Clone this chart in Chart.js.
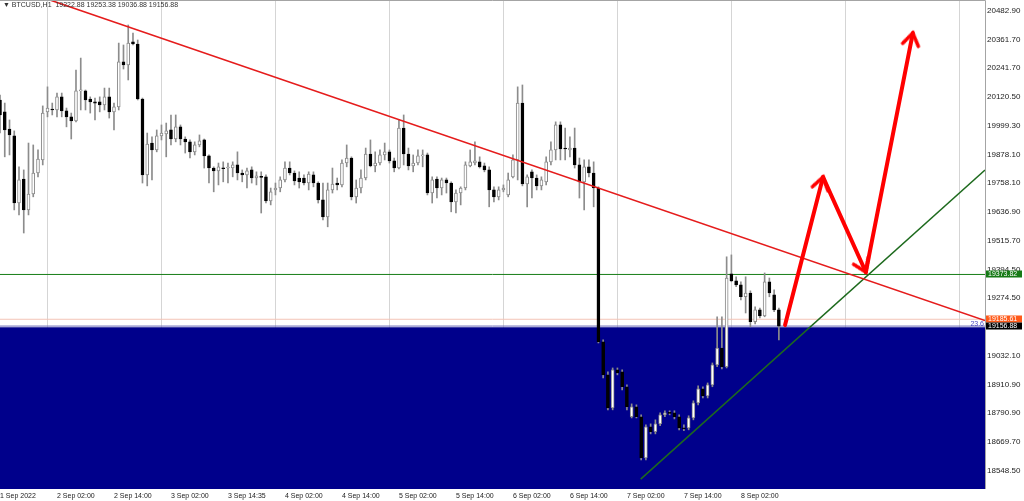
<!DOCTYPE html>
<html>
<head>
<meta charset="utf-8">
<title>BTCUSD H1</title>
<script src="https://cdn.jsdelivr.net/npm/chart.js@4.4.0/dist/chart.umd.min.js"></script>
<style>
    html, body { margin: 0; padding: 0; background: #fff; }
    #wrap { position: relative; width: 1024px; height: 501px; }
    #head { position: absolute; left: 3px; top: 1px; font: 7px "Liberation Sans", Arial, sans-serif; color: #333; white-space: pre; }
</style>
</head>
<body>
<div id="wrap">
    <canvas id="priceChart" width="1024" height="501"></canvas>
    <div id="head">▼ BTCUSD,H1  19222.88 19253.38 19036.88 19156.88</div>
</div>
<script>
// hourly candles, index 0 = first bar on screen
var opens = [
    20107,20057,19985,19956,19674,19775,19645,19712,19800,19855,
    20057,20069,20065,20120,20061,20036,20019,20145,20145,20111,
    20099,20099,20086,20120,20057,20078,20267,20254,20351,20342,
    20111,19792,19926,19897,19956,19964,19981,19943,19994,19943,
    19931,19889,19918,19939,19872,19821,19809,19821,19821,19821,
    19834,19800,19792,19813,19779,19784,19784,19683,19729,19737,
    19771,19821,19800,19779,19779,19758,19792,19758,19687,19616,
    19729,19758,19750,19842,19863,19700,19737,19779,19880,19830,
    19842,19876,19889,19851,19821,19989,19880,19830,19842,19872,
    19876,19716,19775,19737,19771,19758,19679,19716,19737,19830,
    19842,19847,19830,19813,19729,19700,19729,19708,19784,19855,
    20094,19754,19805,19779,19746,19763,19847,19897,20002,19905,
    19897,19905,19834,19763,19826,19800,19737,19091,18952,18813,
    18973,18965,18902,18776,18818,18776,18603,18734,18713,18746,
    18784,18792,18792,18776,18729,18729,18771,18834,18893,18864,
    18910,18994,19065,18986,19376,19347,19330,19280,19296,19175,
    19225,19200,19343,19288,19225
];
var highs = [
    20128,20094,20023,19977,19826,19813,19926,19918,19897,20082,
    20162,20094,20136,20136,20073,20052,20233,20283,20149,20120,
    20115,20120,20157,20157,20094,20346,20338,20422,20388,20359,
    20115,19968,19952,19981,20002,20010,20044,20044,20002,19952,
    19939,19931,19960,19943,19876,19826,19842,19847,19842,19847,
    19889,19813,19821,19826,19805,19805,19792,19737,19758,19784,
    19847,19847,19809,19805,19792,19805,19805,19763,19758,19758,
    19821,19779,19855,19918,19868,19771,19813,19905,19939,19889,
    19897,19926,19897,19863,20023,20044,19905,19876,19897,19897,
    19884,19784,19784,19779,19779,19763,19729,19742,19847,19897,
    19931,19868,19842,19826,19742,19742,19750,19800,19876,20162,
    20170,19792,19813,19792,19784,19868,19931,20015,20015,19989,
    19952,19989,19863,19855,19855,19847,19742,19099,18965,18981,
    18981,18973,18910,18830,18826,18784,18742,18746,18763,18792,
    18801,18801,18801,18784,18742,18780,18843,18906,18902,18918,
    19002,19196,19196,19448,19456,19364,19343,19364,19305,19238,
    19233,19380,19359,19309,19233
];
var lows = [
    19968,19868,19876,19645,19624,19548,19624,19700,19784,19834,
    20036,20044,20036,20036,19994,19943,20015,20065,20065,20052,
    20023,20057,20065,20031,19981,20065,20237,20191,20338,20107,
    19758,19746,19771,19889,19939,19868,19918,19931,19918,19884,
    19863,19876,19910,19821,19758,19721,19750,19763,19758,19784,
    19771,19763,19737,19758,19750,19632,19674,19666,19708,19721,
    19763,19792,19750,19737,19750,19729,19742,19674,19603,19574,
    19716,19729,19742,19826,19687,19674,19716,19771,19826,19805,
    19834,19855,19842,19805,19817,19834,19813,19805,19834,19826,
    19708,19674,19695,19708,19716,19637,19632,19666,19729,19826,
    19834,19821,19805,19658,19679,19687,19721,19700,19779,19771,
    19746,19658,19695,19729,19729,19750,19834,19855,19855,19855,
    19868,19821,19695,19645,19784,19658,19086,18939,18805,18805,
    18952,18889,18805,18771,18771,18595,18595,18704,18704,18738,
    18776,18784,18767,18721,18717,18721,18763,18826,18855,18855,
    18902,18986,18977,18981,19343,19322,19267,19212,19154,19166,
    19191,19196,19280,19217,19099
];
var closes = [
    20044,19981,19960,19674,19771,19645,19712,19800,19859,20052,
    20073,20065,20120,20061,20036,20019,20145,20149,20107,20099,
    20094,20086,20120,20057,20078,20267,20254,20346,20342,20111,
    19792,19922,19897,19956,19968,19977,19943,19994,19943,19931,
    19889,19918,19935,19872,19821,19809,19826,19818,19823,19834,
    19800,19792,19809,19779,19788,19782,19683,19721,19737,19771,
    19821,19800,19767,19763,19758,19796,19758,19687,19616,19729,
    19754,19750,19842,19863,19700,19737,19779,19880,19830,19842,
    19876,19889,19851,19821,19989,19880,19830,19842,19872,19876,
    19716,19771,19737,19771,19758,19679,19716,19737,19834,19847,
    19851,19826,19813,19729,19700,19729,19737,19771,19855,20094,
    19754,19784,19779,19746,19771,19847,19897,20002,19901,19901,
    19905,19834,19763,19826,19800,19737,19091,18952,18813,18973,
    18960,18902,18818,18818,18776,18603,18734,18713,18746,18784,
    18792,18790,18776,18729,18725,18771,18834,18893,18864,18910,
    18994,19065,18986,19359,19347,19330,19280,19296,19175,19225,
    19200,19343,19296,19225,19156.88
];

var xLabels = ['1 Sep 2022', '2 Sep 02:00', '2 Sep 14:00', '3 Sep 02:00', '3 Sep 14:35', '4 Sep 02:00',
    '4 Sep 14:00', '5 Sep 02:00', '5 Sep 14:00', '6 Sep 02:00', '6 Sep 14:00', '7 Sep 02:00',
    '7 Sep 14:00', '8 Sep 02:00'];
var yTicks = [20482.90, 20361.70, 20241.70, 20120.50, 19999.30, 19878.10, 19758.10, 19636.90, 19515.70,
    19394.50, 19274.50, 19153.30, 19032.10, 18910.90, 18790.90, 18669.70, 18548.50];
var dayLines = [10, 34, 58, 82, 106, 130, 154, 178, 202];

// drawn objects
var supportLevel = 19373.82;
var askPrice = 19185.61;
var bidPrice = 19156.88;
var zoneTop = 19152;
var fibLabel = '23.6';
var redTrend = [{x: 10.5, y: 20527}, {x: 207.4, y: 19180}];
var greenTrend = [{x: 134.9, y: 18514}, {x: 207.4, y: 19813}];
var arrowPath = [
    [{x: 165.3, y: 19161}, {x: 173.3, y: 19783}],
    [{x: 173.3, y: 19783}, {x: 182.3, y: 19384}],
    [{x: 182.3, y: 19384}, {x: 192.2, y: 20388}]
];
var arrowAngles = [14, 156, 11];
var tagValues = [supportLevel, askPrice, bidPrice];
var tagColors = ['#157a15', '#ff5a1a', '#000000'];

var X_MAX = 207.4;
var Y_MIN = 18472.4;
var Y_MAX = 20527;
var FONT = '"Liberation Sans", Arial, sans-serif';

window.addEventListener('load', drawChart);

// open arrow head, tip in the middle of the little canvas, pointing up
function makeChevron() {
    var cv = document.createElement('canvas');
    cv.width = 32;
    cv.height = 32;
    var g = cv.getContext('2d');
    g.strokeStyle = '#ff0000';
    g.lineWidth = 3.5;
    g.lineCap = 'round';
    g.lineJoin = 'miter';
    g.beginPath();
    g.moveTo(8, 28);
    g.lineTo(16, 16);
    g.lineTo(24, 28);
    g.stroke();
    return cv;
}

function drawChart() {
    var ctx = document.getElementById('priceChart');
    var chevron = makeChevron();

    var bodies = [], wicks = [], fills = [], edges = [];
    for (var i = 0; i < opens.length; ++i) {
        var up = closes[i] >= opens[i];
        bodies.push({x: i, y: [opens[i], closes[i]]});
        wicks.push({x: i, y: [lows[i], highs[i]]});
        fills.push(up ? '#ffffff' : '#000000');
        edges.push(up ? '#8a8a8a' : '#000000');
    }

    function hline(v) {
        return [{x: 0, y: v}, {x: X_MAX, y: v}];
    }

    var datasets = [];
    arrowPath.forEach(function (pts, k) {
        datasets.push({
            type: 'line', data: pts, borderColor: '#ff0000', borderWidth: 4,
            borderCapStyle: 'round', pointStyle: chevron, pointRadius: [0, 8],
            pointRotation: [0, arrowAngles[k]], order: 0
        });
    });
    datasets.push({type: 'line', data: redTrend, borderColor: '#e51c1c', borderWidth: 1.6, pointRadius: 0, order: 1});
    datasets.push({type: 'line', data: greenTrend, borderColor: '#1d6a1d', borderWidth: 1.5, pointRadius: 0, order: 1});
    datasets.push({
        type: 'bar', data: bodies, backgroundColor: fills, borderColor: edges, borderWidth: 1,
        borderSkipped: false, barThickness: 3, minBarLength: 1, grouped: false, order: 2
    });
    datasets.push({
        type: 'bar', data: wicks, backgroundColor: '#8c8c8c', borderWidth: 0,
        barThickness: 1, grouped: false, order: 3
    });
    datasets.push({type: 'line', data: hline(supportLevel), borderColor: '#177d17', borderWidth: 1, pointRadius: 0, order: 4});
    datasets.push({type: 'line', data: hline(askPrice), borderColor: '#f4c4b6', borderWidth: 1, pointRadius: 0, order: 4});
    datasets.push({type: 'line', data: hline(bidPrice), borderColor: '#6a6ab8', borderWidth: 1, pointRadius: 0, order: 4});
    datasets.push({
        type: 'line', data: hline(zoneTop), borderColor: '#00008b', borderWidth: 0,
        backgroundColor: '#00008b', fill: 'start', pointRadius: 0, order: 5
    });

    var overlay = {
        id: 'overlay',
        afterDraw: function (chart) {
            var c = chart.ctx, a = chart.chartArea, ys = chart.scales.y;
            c.save();
            c.strokeStyle = '#a4a4a4';
            c.lineWidth = 1;
            c.beginPath();
            c.moveTo(0, a.top + 0.5);
            c.lineTo(a.right + 0.5, a.top + 0.5);
            c.lineTo(a.right + 0.5, a.bottom);
            c.stroke();

            c.font = '7px ' + FONT;
            c.fillStyle = '#4848c0';
            c.textAlign = 'right';
            c.textBaseline = 'bottom';
            c.fillText(fibLabel, a.right - 1, ys.getPixelForValue(zoneTop));

            c.textAlign = 'left';
            c.textBaseline = 'middle';
            tagValues.forEach(function (v, k) {
                var y = Math.round(ys.getPixelForValue(v));
                c.fillStyle = tagColors[k];
                c.fillRect(a.right + 1, y - 3.5, 36, 7);
                c.fillStyle = '#ffffff';
                c.fillText(v.toFixed(2), a.right + 3, y + 0.5);
            });
            c.restore();
        }
    };

    new Chart(ctx, {
        type: 'bar',
        data: {datasets: datasets},
        plugins: [overlay],
        options: {
            responsive: false,
            animation: false,
            devicePixelRatio: 1,
            layout: {padding: 0, autoPadding: false},
            plugins: {legend: {display: false}, tooltip: {enabled: false}},
            scales: {
                x: {
                    type: 'linear', min: 0, max: X_MAX, offset: false,
                    grid: {display: false, offset: false, drawTicks: false}, border: {display: false},
                    afterBuildTicks: function (s) {
                        s.ticks = xLabels.map(function (l, k) { return {value: k * 12}; });
                    },
                    afterFit: function (s) {
                        s.height = 12; s.paddingLeft = 0; s.paddingRight = 0;
                    },
                    ticks: {
                        autoSkip: false, maxRotation: 0, minRotation: 0, align: 'start', padding: 3,
                        color: '#222', font: {family: FONT, size: 7},
                        callback: function (v, k) { return xLabels[k]; }
                    }
                },
                xg: {
                    type: 'linear', position: 'bottom', min: 0, max: X_MAX, offset: false, z: 1,
                    grid: {color: 'rgba(185,185,185,0.6)', offset: false, drawTicks: false},
                    border: {display: false},
                    ticks: {display: false},
                    afterBuildTicks: function (s) {
                        s.ticks = dayLines.map(function (v) { return {value: v}; });
                    },
                    afterFit: function (s) {
                        s.height = 0; s.paddingLeft = 0; s.paddingRight = 0;
                    }
                },
                y: {
                    type: 'linear', position: 'right', min: Y_MIN, max: Y_MAX, beginAtZero: false,
                    grid: {display: false, drawTicks: false}, border: {display: false},
                    afterBuildTicks: function (s) {
                        s.ticks = yTicks.map(function (v) { return {value: v}; });
                    },
                    afterFit: function (s) {
                        s.width = 39; s.paddingTop = 0; s.paddingBottom = 0;
                    },
                    ticks: {
                        padding: 2, color: '#222', font: {family: FONT, size: 8},
                        callback: function (v) { return v.toFixed(2); }
                    }
                }
            }
        }
    });
}
</script>
</body>
</html>
